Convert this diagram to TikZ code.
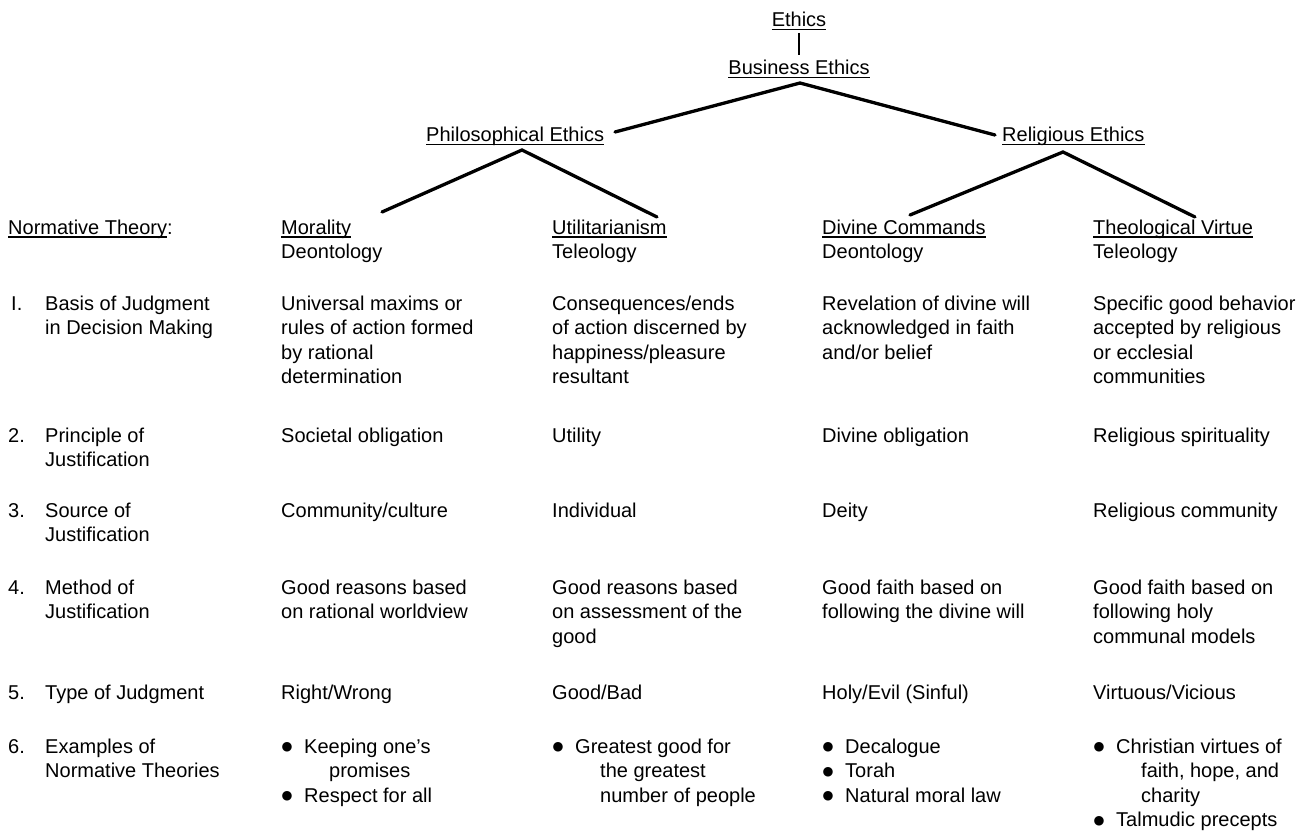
\documentclass[tikz,border=0pt]{standalone}
\usepackage{fontspec}
\setmainfont{Liberation Sans}
\newfontfamily\dejavu{DejaVu Sans}
\newcommand\uln[1]{\leavevmode\setbox0\hbox{#1}\rlap{\rule[-3.5pt]{\wd0}{1.3pt}}\box0}
\newcommand\cell[1]{\parbox[t]{320pt}{\raggedright\fontsize{20}{24.5}\selectfont\leavevmode #1}}
\newcommand\bul{\makebox[23pt][l]{\hspace{0.5pt}\raisebox{2.5pt}{\dejavu\fontsize{12.5}{12.5}\selectfont ●}}}
\newcommand\cont{\hspace*{48pt}}
\tikzset{
  txt/.style={anchor=base west, inner sep=0pt, font=\fontsize{20}{24.5}\selectfont},
  ctxt/.style={anchor=base, inner sep=0pt, font=\fontsize{20}{24.5}\selectfont},
  branch/.style={line width=3.3pt, line cap=round},
  stem/.style={line width=2.5pt},
}
\begin{document}
\begin{tikzpicture}[x=1pt,y=-1pt]
\fill[white] (0,0) rectangle (1311,837);
\useasboundingbox (0,0) rectangle (1311,837);

% tree
\node[ctxt] (ethics) at (799,27) {\uln{Ethics}};
\node[ctxt] (business) at (799,75) {\uln{Business Ethics}};
\node[txt] (phil) at (426,142) {\uln{Philosophical Ethics}};
\node[txt] (relig) at (1002,142) {\uln{Religious Ethics}};
\draw[stem] ([yshift=-6pt]ethics.base) -- ([yshift=5pt]business.north);

\coordinate (bapex) at (800,83);
\coordinate (bl) at (615,132);
\coordinate (br) at (995,135);
\coordinate (papex) at (522,150);
\coordinate (pl) at (382,212);
\coordinate (pr) at (657,217);
\coordinate (rapex) at (1063,152);
\coordinate (rl) at (910,215);
\coordinate (rr) at (1195,217);
\draw[branch] (bl) -- (bapex) -- (br);
\draw[branch] (pl) -- (papex) -- (pr);
\draw[branch] (rl) -- (rapex) -- (rr);

% header row
\node[txt] (norm) at (8,234) {\uln{Normative Theory}:};
\node[txt] (mor) at (281,234) {\cell{\uln{Morality}\\Deontology}};
\node[txt] (util) at (552,234) {\cell{\uln{Utilitarianism}\\Teleology}};
\node[txt] (div) at (822,234) {\cell{\uln{Divine Commands}\\Deontology}};
\node[txt] (theo) at (1093,234) {\cell{\uln{Theological Virtue}\\Teleology}};

% row 1
\node[txt] (n1) at (11,310) {I.};
\node[txt] (l1) at (45,310) {\cell{Basis of Judgment\\in Decision Making}};
\node[txt] (a1) at (281,310) {\cell{Universal maxims or\\rules of action formed\\by rational\\determination}};
\node[txt] (b1) at (552,310) {\cell{Consequences/ends\\of action discerned by\\happiness/pleasure\\resultant}};
\node[txt] (c1) at (822,310) {\cell{Revelation of divine will\\acknowledged in faith\\and/or belief}};
\node[txt] (d1) at (1093,310) {\cell{Specific good behavior\\accepted by religious\\or ecclesial\\communities}};

% row 2
\node[txt] (n2) at (8,442) {2.};
\node[txt] (l2) at (45,442) {\cell{Principle of\\Justification}};
\node[txt] (a2) at (281,442) {Societal obligation};
\node[txt] (b2) at (552,442) {Utility};
\node[txt] (c2) at (822,442) {Divine obligation};
\node[txt] (d2) at (1093,442) {Religious spirituality};

% row 3
\node[txt] (n3) at (8,517) {3.};
\node[txt] (l3) at (45,517) {\cell{Source of\\Justification}};
\node[txt] (a3) at (281,517) {Community/culture};
\node[txt] (b3) at (552,517) {Individual};
\node[txt] (c3) at (822,517) {Deity};
\node[txt] (d3) at (1093,517) {Religious community};

% row 4
\node[txt] (n4) at (8,594) {4.};
\node[txt] (l4) at (45,594) {\cell{Method of\\Justification}};
\node[txt] (a4) at (281,594) {\cell{Good reasons based\\on rational worldview}};
\node[txt] (b4) at (552,594) {\cell{Good reasons based\\on assessment of the\\good}};
\node[txt] (c4) at (822,594) {\cell{Good faith based on\\following the divine will}};
\node[txt] (d4) at (1093,594) {\cell{Good faith based on\\following holy\\communal models}};

% row 5
\node[txt] (n5) at (8,699) {5.};
\node[txt] (l5) at (45,699) {Type of Judgment};
\node[txt] (a5) at (281,699) {Right/Wrong};
\node[txt] (b5) at (552,699) {Good/Bad};
\node[txt] (c5) at (822,699) {Holy/Evil (Sinful)};
\node[txt] (d5) at (1093,699) {Virtuous/Vicious};

% row 6
\node[txt] (n6) at (8,753) {6.};
\node[txt] (l6) at (45,753) {\cell{Examples of\\Normative Theories}};
\node[txt] (a6) at (281,753) {\cell{\bul Keeping one’s\\\cont promises\\\bul Respect for all}};
\node[txt] (b6) at (552,753) {\cell{\bul Greatest good for\\\cont the greatest\\\cont number of people}};
\node[txt] (c6) at (822,753) {\cell{\bul Decalogue\\\bul Torah\\\bul Natural moral law}};
\node[txt] (d6) at (1093,753) {\cell{\bul Christian virtues of\\\cont faith, hope, and\\\cont charity\\\bul Talmudic precepts}};
\end{tikzpicture}
\end{document}
